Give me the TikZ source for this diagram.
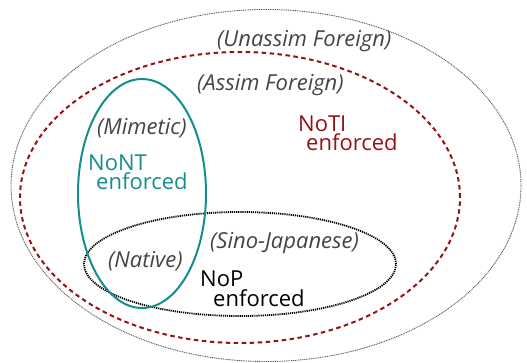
\documentclass[tikz,border=0pt]{standalone}
\usepackage{fontspec}
\setmainfont{Open Sans}
\definecolor{tealc}{RGB}{22,140,140}
\definecolor{redc}{RGB}{150,18,18}
\definecolor{labc}{RGB}{68,68,68}
\tikzset{
  lab/.style={inner sep=0pt, anchor=base west, font=\fontsize{22}{26}\selectfont\itshape, text=labc},
  rule/.style={inner sep=0pt, anchor=north west, align=left, font=\fontsize{22}{19}\selectfont},
}
\begin{document}
\begin{tikzpicture}[x=1pt,y=-1pt]
\useasboundingbox (0,0) rectangle (527,363);
% outer ellipse
\draw[black!65, line width=0.9pt, dash pattern=on 1pt off 0.8pt] (266,185.5) ellipse [x radius=255pt, y radius=176pt];
% assim foreign
\draw[redc, line width=2pt, dash pattern=on 4.5pt off 3.5pt] (240,197.5) ellipse [x radius=220pt, y radius=145.5pt];
% sino-japanese
\draw[black, line width=1.8pt, dash pattern=on 1.2pt off 0.9pt] (240,264) ellipse [x radius=156pt, y radius=52pt];
% mimetic/native
\draw[tealc, line width=2pt] (142,193.5) ellipse [x radius=64pt, y radius=114.5pt];
% labels
\node[lab] (unassim) at (217,46.5) {(Unassim Foreign)};
\node[lab] (assim) at (197,90.5) {(Assim Foreign)};
\node[lab] (mimetic) at (97,135) {(Mimetic)};
\node[lab] (sino) at (210,248) {(Sino-Japanese)};
\node[lab] (native) at (108,267) {(Native)};
\node[rule, text=redc] (noti) at (298,115.3) {NoTI\\\hspace*{8pt}enforced};
\node[rule, text=tealc] (nont) at (88,154.3) {NoNT\\\hspace*{8pt}enforced};
\node[rule, text=black, font=\fontsize{22}{20}\selectfont] (nop) at (200,270.3) {NoP\\\hspace*{13pt}enforced};
\end{tikzpicture}
\end{document}
